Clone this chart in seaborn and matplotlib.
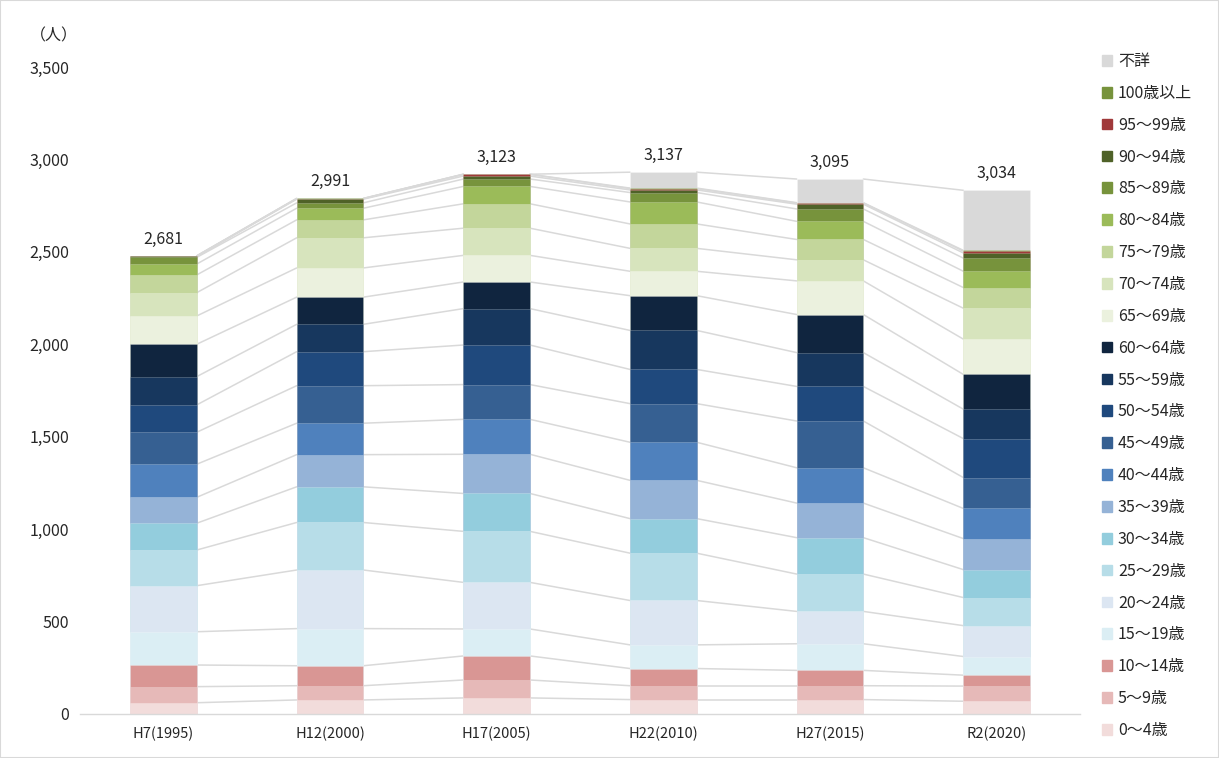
import numpy as np
import pandas as pd
import matplotlib
matplotlib.use("Agg")
import matplotlib.pyplot as plt
import matplotlib.patches as mpatches
import seaborn as sns

# categories (x) and age groups (stack order bottom -> top)
years = ["H7(1995)", "H12(2000)", "H17(2005)", "H22(2010)", "H27(2015)", "R2(2020)"]
totals = [2681, 2991, 3123, 3137, 3095, 3034]
ages = ["0～4歳", "5～9歳", "10～14歳", "15～19歳", "20～24歳", "25～29歳",
        "30～34歳", "35～39歳", "40～44歳", "45～49歳", "50～54歳", "55～59歳",
        "60～64歳", "65～69歳", "70～74歳", "75～79歳", "80～84歳", "85～89歳",
        "90～94歳", "95～99歳", "100歳以上", "不詳"]
colors = ["#f2dcdb", "#e6b9b8", "#d99694", "#dbeef4", "#dce6f2", "#b7dde8",
          "#93cddd", "#95b3d7", "#4f81bd", "#366092", "#1f497d", "#17375e",
          "#10253f", "#ebf1de", "#d7e4bd", "#c3d69b", "#9bbb59", "#77933c",
          "#4f6228", "#a0393a", "#77933c", "#d9d9d9"]

# values per age group, one list per year
h7 = [61, 87, 117, 180, 249, 193, 145, 140, 179, 173, 148, 153, 175, 153, 126, 96, 59, 36, 5, 3, 0, 0]
h12 = [76, 77, 108, 201, 317, 257, 193, 174, 170, 203, 184, 148, 147, 158, 163, 97, 63, 29, 20, 3, 1, 0]
h17 = [87, 97, 130, 146, 252, 276, 205, 212, 189, 188, 214, 197, 144, 144, 147, 132, 94, 40, 16, 9, 1, 0]
h22 = [78, 75, 93, 128, 240, 256, 187, 207, 206, 209, 185, 211, 188, 132, 124, 132, 119, 51, 14, 7, 3, 86]
h27 = [78, 75, 83, 144, 175, 202, 197, 187, 191, 253, 187, 183, 206, 182, 114, 110, 98, 67, 26, 6, 2, 128]
r2 = [69, 82, 59, 101, 167, 152, 151, 168, 163, 167, 211, 159, 188, 191, 167, 112, 88, 71, 28, 10, 4, 325]

df = pd.DataFrame({y: v for y, v in zip(years, [h7, h12, h17, h22, h27, r2])}, index=ages)
cum = df.cumsum()

W, H = 1219, 758
sns.set_theme(style="white")
plt.rcParams["font.family"] = ["Noto Sans CJK JP", "DejaVu Sans"]

fig = plt.figure(figsize=(W / 100, H / 100), dpi=100)
ax = fig.add_axes([80 / W, 1 - 714 / H, 1000 / W, (714 - 67) / H])

bw = 0.4
# connecting series lines
for age in ages:
    vals = cum.loc[age].values
    for i in range(len(years) - 1):
        ax.plot([i + bw / 2, i + 1 - bw / 2], [vals[i], vals[i + 1]],
                color="#d9d9d9", lw=1.1, zorder=1)

# stacked bars: draw cumulative layers from top to bottom
for age, c in reversed(list(zip(ages, colors))):
    layer = pd.DataFrame({"year": years, "value": cum.loc[age].values})
    sns.barplot(data=layer, x="year", y="value", color=c, width=bw,
                saturation=1, edgecolor=(1, 1, 1, 0.25), linewidth=0.6,
                ax=ax, zorder=2)

# total labels
for i, t in enumerate(totals):
    ax.annotate(f"{t:,}", (i, cum.iloc[-1, i]), xytext=(0, 6),
                textcoords="offset points", ha="center", va="bottom",
                fontsize=11.5, color="#262626")

ax.set_xlim(-0.5, len(years) - 0.5)
ax.set_ylim(0, 3500)
ax.set_yticks(np.arange(0, 3501, 500))
ax.set_yticklabels([f"{v:,}" for v in np.arange(0, 3501, 500)])
ax.set_xlabel("")
ax.set_ylabel("")
ax.tick_params(axis="y", length=0, pad=8, labelsize=11.5, labelcolor="#262626")
ax.tick_params(axis="x", length=0, pad=9, labelsize=10.5, labelcolor="#262626")
for s in ["top", "right", "left"]:
    ax.spines[s].set_visible(False)
ax.spines["bottom"].set_color("#d9d9d9")
ax.spines["bottom"].set_linewidth(1)

fig.text(30 / W, 1 - 36 / H, "（人）", fontsize=11.5, va="center", ha="left", color="#262626")

handles = [mpatches.Patch(color=c, label=a) for a, c in zip(ages, colors)][::-1]
fig.legend(handles=handles, loc="upper left", bbox_to_anchor=(1102 / W, 1 - 53 / H),
           frameon=False, fontsize=11.5, labelspacing=0.93, handlelength=0.65,
           handleheight=0.65, handletextpad=0.35, borderaxespad=0, borderpad=0)

fig.patches.append(mpatches.Rectangle((0, 0), 1, 1, transform=fig.transFigure,
                                      fill=False, edgecolor="#d9d9d9", lw=1.5))

fig.savefig("out.png", dpi=100)
